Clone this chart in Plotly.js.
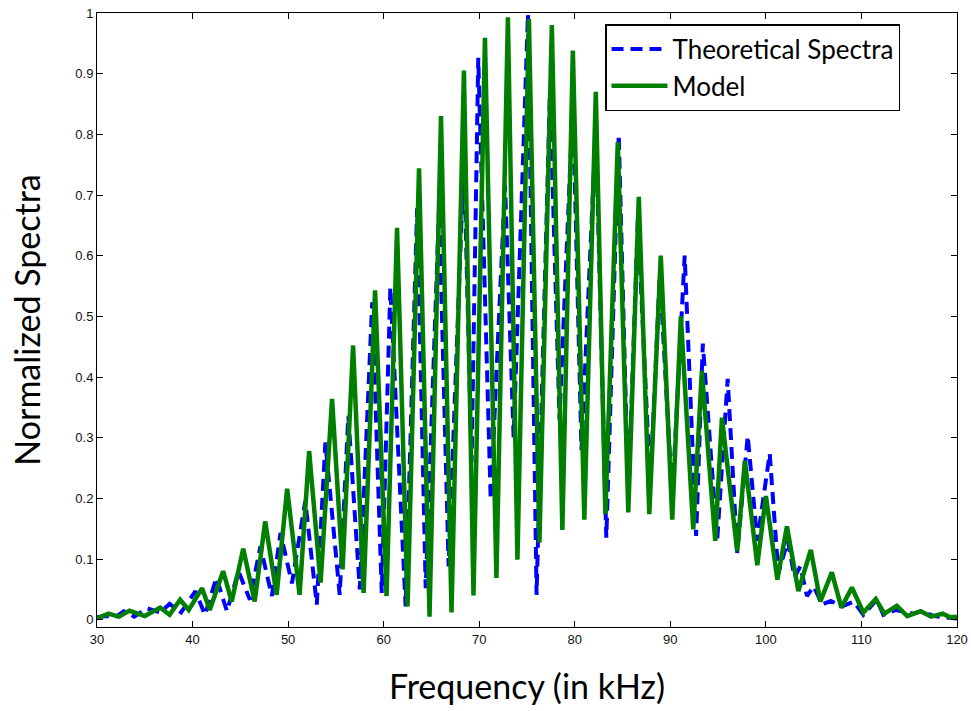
<!DOCTYPE html>
<html>
<head>
<meta charset="utf-8">
<script src="https://cdn.plot.ly/plotly-3.0.1.min.js"></script>
<style>html,body{margin:0;padding:0;background:#fff}#chart{width:971px;height:711px}</style>
</head>
<body>
<div id="chart"></div>
<script>
// Theoretical spectra (blue dashed): frequency (kHz) and normalized value
const theoFreq = [30.0,31.0,31.8,32.8,33.9,35.2,36.6,37.6,38.8,40.3,41.3,42.5,43.6,44.8,46.0,47.1,48.3,49.2,50.4,51.8,53.0,53.9,55.4,56.3,57.5,58.8,59.8,60.7,62.3,63.5,64.4,65.8,66.8,68.4,69.2,69.9,71.2,72.7,73.6,75.1,76.0,77.4,78.4,79.8,80.7,82.2,83.3,84.6,85.6,86.6,87.9,88.9,90.2,91.5,92.7,93.4,94.9,96.0,97.0,98.1,99.1,100.4,101.3,102.3,103.0,103.6,104.3,105.0,105.9,106.8,108.0,109.2,110.2,111.6,112.3,113.6,115.4,116.3,117.6,119.2,120.0];
const theoValue = [0.004,0.006,0.003,0.014,0.005,0.019,0.012,0.026,0.012,0.047,0.008,0.069,0.014,0.080,0.033,0.121,0.039,0.143,0.060,0.196,0.025,0.292,0.041,0.336,0.050,0.523,0.044,0.548,0.022,0.678,0.052,0.680,0.088,0.766,0.260,0.926,0.198,0.716,0.300,0.998,0.041,0.870,0.330,0.850,0.280,0.810,0.135,0.800,0.200,0.660,0.220,0.570,0.200,0.600,0.138,0.455,0.130,0.397,0.110,0.303,0.130,0.274,0.077,0.130,0.070,0.088,0.039,0.055,0.025,0.031,0.022,0.030,0.008,0.033,0.008,0.016,0.010,0.014,0.006,0.003,0.002];

// Model (green solid)
const modelFreq = [30.0,31.2,32.3,33.4,35.0,36.6,37.6,38.7,39.6,41.0,41.8,43.2,44.1,45.3,46.5,47.6,48.8,49.9,51.2,52.2,53.4,54.6,55.7,56.8,57.9,59.1,60.3,61.4,62.5,63.7,64.8,66.0,67.1,68.4,69.4,70.6,71.8,73.0,74.0,75.2,76.3,77.6,78.7,79.8,81.0,82.2,83.2,84.5,85.6,86.7,87.8,89.0,90.2,91.1,92.4,93.3,94.7,95.4,97.0,97.8,99.1,100.0,101.2,102.2,103.4,104.7,105.7,106.9,107.9,109.0,110.2,111.5,112.4,113.7,114.8,116.2,117.3,118.5,119.3,120.0];
const modelValue = [0.002,0.010,0.005,0.015,0.006,0.020,0.008,0.033,0.016,0.052,0.016,0.080,0.030,0.117,0.030,0.162,0.041,0.216,0.041,0.278,0.061,0.364,0.083,0.452,0.044,0.543,0.039,0.646,0.022,0.744,0.005,0.830,0.012,0.905,0.040,0.959,0.069,0.993,0.099,0.990,0.127,0.980,0.148,0.938,0.165,0.870,0.174,0.787,0.177,0.697,0.174,0.600,0.165,0.500,0.149,0.410,0.130,0.333,0.113,0.262,0.090,0.204,0.066,0.154,0.047,0.115,0.030,0.078,0.020,0.053,0.012,0.034,0.010,0.023,0.006,0.014,0.005,0.010,0.004,0.005];

const xTicks = [30,40,50,60,70,80,90,100,110,120];
const yTicks = [0,0.1,0.2,0.3,0.4,0.5,0.6,0.7,0.8,0.9,1];
const seriesNames = ['Theoretical Spectra','Model'];

const traces = [
  {x: theoFreq, y: theoValue, name: seriesNames[0], type: 'scatter', mode: 'lines',
   line: {color: '#0000ff', width: 4, dash: '12px,7px'}},
  {x: modelFreq, y: modelValue, name: seriesNames[1], type: 'scatter', mode: 'lines',
   line: {color: '#007f00', width: 4.5}}
];

const axisCommon = {
  showgrid: false, zeroline: false, showline: true, linecolor: '#000', linewidth: 1,
  mirror: 'ticks', ticks: 'inside', ticklen: 6, tickcolor: '#000', tickwidth: 1,
  tickfont: {family: 'Liberation Sans, Arial, sans-serif', size: 13, color: '#111'}
};

const layout = {
  width: 971, height: 711,
  margin: {l: 97, r: 14, t: 13, b: 84, pad: 0},
  paper_bgcolor: '#fff', plot_bgcolor: '#fff',
  showlegend: true,
  xaxis: Object.assign({}, axisCommon, {
    range: [30, 120], tickvals: xTicks, ticktext: xTicks.map(String),
    title: {text: 'Frequency (in kHz)', font: {family: 'Lato, Open Sans, sans-serif', size: 34, color: '#000'}, standoff: 29}
  }),
  yaxis: Object.assign({}, axisCommon, {
    range: [-0.012, 1], tickvals: yTicks, ticktext: yTicks.map(String),
    title: {text: 'Normalized Spectra', font: {family: 'Lato, Open Sans, sans-serif', size: 34, color: '#000'}, standoff: 24}
  }),
  legend: {
    x: 0.5907, y: 0.982, xanchor: 'left', yanchor: 'top',
    bgcolor: '#fff', bordercolor: '#000', borderwidth: 1.5,
    font: {family: 'Lato, Open Sans, sans-serif', size: 26, color: '#000'},
    itemwidth: 56, tracegroupgap: 0,
    entrywidthmode: 'pixels', entrywidth: 310
  }
};

Plotly.newPlot('chart', traces, layout, {staticPlot: true, displayModeBar: false});
</script>
</body>
</html>
